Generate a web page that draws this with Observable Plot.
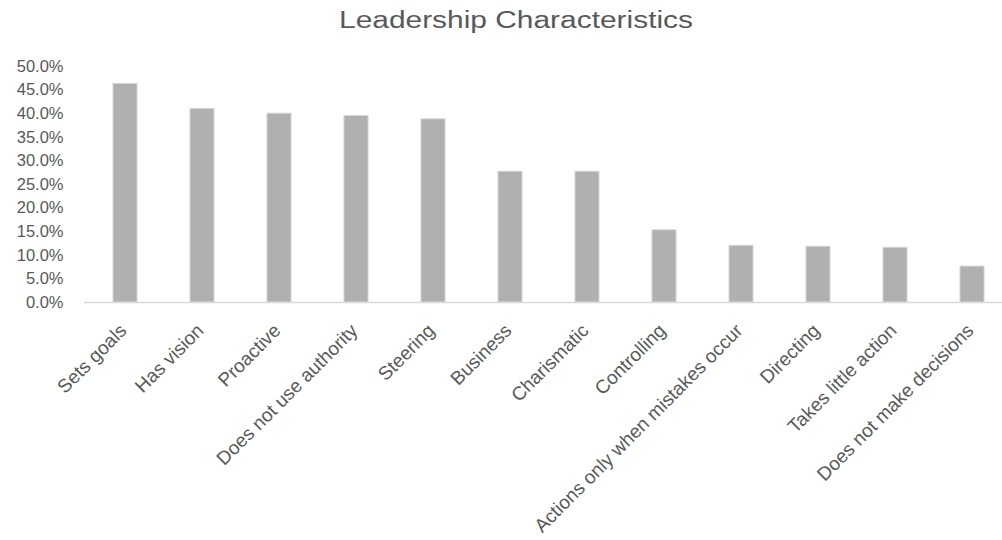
<!DOCTYPE html>
<html>
<head>
<meta charset="utf-8">
<script src="https://cdn.jsdelivr.net/npm/d3@7"></script>
<script src="https://cdn.jsdelivr.net/npm/@observablehq/plot@0.6"></script>
<style>
  body { margin: 0; background: #fff; font-family: "Liberation Sans", Arial, sans-serif; }
  #title { height: 44px; width: 1002px; position: relative; }
  #title span { position: absolute; left: 516px; top: 20px; transform: translate(-50%, -50%) scaleX(1.3); white-space: nowrap; font-size: 23px; color: #595959; }
  #chart svg { overflow: hidden; }
</style>
</head>
<body>
<div id="title"><span>Leadership Characteristics</span></div>
<div id="chart"></div>
<script>
const categories = ["Sets goals", "Has vision", "Proactive", "Does not use authority", "Steering", "Business", "Charismatic", "Controlling", "Actions only when mistakes occur", "Directing", "Takes little action", "Does not make decisions"];
const values = [0.463, 0.410, 0.400, 0.395, 0.388, 0.277, 0.277, 0.153, 0.120, 0.118, 0.116, 0.076];
const yTicks = [0, 0.05, 0.10, 0.15, 0.20, 0.25, 0.30, 0.35, 0.40, 0.45, 0.50];

const data = categories.map((c, i) => ({category: c, value: values[i]}));

const chart = Plot.plot({
  width: 1002,
  height: 496,
  marginLeft: 84,
  marginRight: -10,
  marginTop: 22,
  marginBottom: 238,
  style: {fontFamily: "Liberation Sans, Arial, sans-serif", fontSize: "16px", color: "#595959", background: "#fff"},
  x: {domain: categories, paddingInner: 0.69, paddingOuter: 0.345, label: null},
  y: {domain: [0, 0.5], label: null},
  marks: [
    Plot.barY(data, {x: "category", y: "value", fill: "#b0b0b0", stroke: "#d4d4d4", strokeWidth: 1}),
    Plot.ruleY([0], {stroke: "#d9d9d9", strokeWidth: 1.5}),
    Plot.axisY({ticks: yTicks, tickFormat: d => (d * 100).toFixed(1) + "%", label: null, tickSize: 0, tickPadding: 21, fontSize: 16.5}),
    Plot.axisX({label: null, tickSize: 0, tickRotate: -45, tickPadding: 25, dx: -2, fontSize: 19})
  ]
});
document.getElementById("chart").appendChild(chart);
</script>
</body>
</html>
